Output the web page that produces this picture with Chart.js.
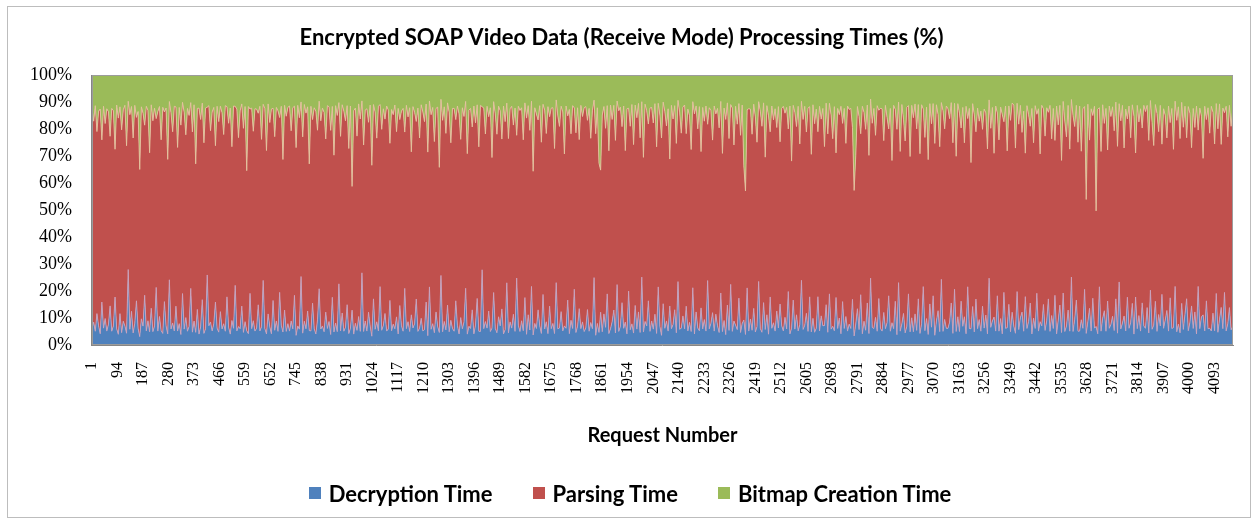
<!DOCTYPE html>
<html>
<head>
<meta charset="utf-8">
<title>Encrypted SOAP Video Data (Receive Mode) Processing Times (%)</title>
<script src="https://cdn.jsdelivr.net/npm/chart.js@4.4.1/dist/chart.umd.min.js"></script>
<style>
body{margin:0;background:#fff;}
#wrap{position:relative;width:1256px;height:523px;overflow:hidden;background:#fff;}
#frame{position:absolute;left:7px;top:6px;width:1244px;height:512px;border:1px solid #bdbdbd;box-sizing:border-box;}
#c{position:absolute;left:0;top:0;}
#legend{position:absolute;left:2px;top:480px;width:1256px;height:26px;display:flex;justify-content:center;align-items:center;font:bold 22px Lato,"Liberation Sans",sans-serif;color:#000;}
#legend span.item{display:flex;align-items:center;margin:0 20px;}
#legend i{display:inline-block;width:12px;height:12px;margin-right:8px;}
</style>
</head>
<body>
<div id="wrap">
  <div id="frame"></div>
  <canvas id="c" width="1256" height="523"></canvas>
  <div id="legend"></div>
</div>
<script>
// request axis labels (every 93rd request, as in the original)
const tickLabels=[1,94,187,280,373,466,559,652,745,838,931,1024,1117,1210,1303,1396,1489,1582,1675,1768,1861,1954,2047,2140,2233,2326,2419,2512,2605,2698,2791,2884,2977,3070,3163,3256,3349,3442,3535,3628,3721,3814,3907,4000,4093];
const sampleStep=6; // one sample every 6 requests
const lastRequest=4160;

// raw times, one value per sample (estimated)
const decryption=[
6,9,5,14,7,4,22,6,11,5,8,18,5,7,26,6,4,12,5,9,
7,5,35,6,13,5,8,20,6,4,10,7,24,5,9,6,15,5,7,28,
5,11,6,4,19,7,5,30,6,9,5,16,6,8,4,21,6,12,5,7,
25,5,9,6,14,4,7,18,5,6,33,7,10,5,8,22,6,5,13,6,
9,5,20,7,4,11,6,27,5,8,6,15,5,9,7,4,23,6,10,5,
6,17,5,8,29,6,5,12,7,4,19,6,9,5,25,7,6,14,5,8,
5,10,6,21,4,7,6,31,5,9,6,13,7,5,18,6,4,11,24,6,
7,5,15,6,9,4,20,6,8,5,27,6,12,5,7,16,5,6,22,4,
8,6,11,5,34,6,9,5,14,7,4,19,6,10,5,26,6,7,13,5,
6,23,5,8,6,12,4,17,7,5,29,6,9,5,15,6,8,21,5,7,
10,5,6,18,4,25,6,8,5,13,7,6,32,5,9,6,16,5,11,6,
5,20,7,4,12,6,9,24,5,7,6,15,4,8,19,6,5,36,6,10,
6,14,5,8,22,6,5,11,7,17,4,6,27,5,9,6,13,5,38,7,
5,9,6,19,4,12,6,25,5,8,6,15,7,5,21,6,10,4,16,6,
8,5,28,6,7,13,5,9,6,20,4,11,6,24,5,7,17,6,9,5,
6,15,5,10,6,30,4,8,6,18,5,12,7,22,5,6,9,14,5,26,
5,7,19,6,11,4,23,6,8,5,16,6,13,5,31,6,9,7,20,5,
9,6,12,5,25,7,4,17,6,10,5,21,6,8,14,5,28,6,7,11,
6,18,5,9,6,24,4,13,7,5,19,6,10,5,33,6,8,15,5,12,
7,5,22,6,9,4,16,6,27,5,11,7,6,20,5,8,13,6,25,5,
10,6,14,5,8,29,6,5,17,7,12,4,23,6,9,5,15,6,21,7,
5,11,6,26,4,8,18,6,13,5,9,30,6,7,14,5,20,6,10,5,
6,24,5,12,7,9,16,5,22,6,8,5,27,6,11,4,19,6,13,5,
8,6,21,5,10,14,6,25,4,9,6,17,5,31,7,6,12,5,20,6,
5,15,6,9,23,5,11,6,18,4,28,6,8,13,5,7,22,6,10,5,
12,6,19,5,8,26,6,10,5,16,7,21,4,9,14,6,29,5,11,6,
6,9,17,5,24,6,11,5,20,7,13,4,27,6,8,15,5,22,6,10,
5,18,6,12,5,30,7,9,14,5,21,6,10,4,25,6,8,16,5,13,
7,5,23,6,10,15,5,28,6,9,19,4,12,6,24,5,11,7,17,6,
9,20,5,13,6,26,4,10,16,6,22,5,8,14,6,31,5,11,18,6,
5,12,6,25,7,9,17,5,21,6,13,4,27,6,10,15,5,23,6,8,
11,6,19,5,29,6,8,14,5,22,6,10,17,4,26,6,12,5,20,7,
6,15,5,24,6,9,18,5,13,7,28,6,10,16,5,21,6,8,25,5,
8,5,17,6,12,23,5,9,20,6,14,4,30,6,11,16,5,19,6,7,
5,13,6,22,5,10,18,6,24,5,9,15,6,7
];
const parsing=[
80,79,82,81,78,80,83,79,81,80,82,78,81,79,80,83,81,79,82,80,
81,80,78,82,79,81,80,83,78,80,81,79,82,80,78,81,83,79,80,82,
79,81,80,78,83,80,79,82,81,78,80,82,79,81,80,78,82,80,81,79,
82,78,81,80,79,83,80,78,82,81,79,80,83,78,81,80,79,82,80,81,
80,82,79,81,83,78,80,81,79,82,80,78,81,83,79,80,82,81,78,80,
78,81,80,82,79,80,83,81,78,80,82,79,80,81,83,78,80,82,79,81,
81,79,82,80,78,81,80,79,83,82,80,78,81,80,79,82,81,83,80,78,
80,83,79,81,82,78,80,82,79,81,80,83,78,80,82,79,81,80,78,82,
79,80,82,78,81,83,79,80,81,82,78,80,83,79,80,81,82,78,80,81,
82,81,78,80,83,79,82,80,78,81,80,82,79,83,81,78,80,81,82,79,
80,78,81,83,79,80,82,81,78,80,83,79,81,80,82,78,81,83,79,80,
81,82,79,80,78,82,80,79,83,81,80,78,82,81,79,80,83,78,81,80,
79,80,83,81,80,78,81,82,79,80,82,81,78,80,83,79,80,82,81,78,
82,79,80,78,81,83,80,79,82,80,78,81,80,83,79,82,81,80,78,81,
80,81,82,79,83,80,78,81,80,82,79,83,81,78,80,81,79,82,80,83,
78,80,81,82,80,79,83,80,81,78,82,80,79,81,80,83,78,82,80,79,
81,83,79,80,82,81,78,80,83,79,81,80,82,78,80,81,83,79,80,82,
80,78,82,81,79,80,82,83,78,81,80,79,82,80,81,78,80,83,81,79,
83,80,79,82,81,78,80,81,82,79,80,83,78,81,80,82,79,80,81,78,
79,82,81,80,78,83,81,79,80,82,81,78,80,83,79,81,80,82,78,80,
81,80,78,83,80,82,79,81,80,78,83,81,79,80,82,80,81,78,83,79,
80,81,83,79,82,80,78,82,81,80,79,83,81,78,80,82,79,81,80,82,
78,82,80,81,79,83,80,78,82,81,80,79,82,80,83,81,78,80,79,81,
82,80,79,81,80,78,83,80,81,79,82,80,78,83,81,80,79,82,81,80,
80,79,82,83,78,81,80,82,79,80,81,78,83,80,79,82,81,80,78,81,
81,83,80,78,82,79,81,80,83,78,80,82,79,81,80,83,78,81,82,80,
79,80,81,82,80,78,83,81,79,82,80,81,78,80,82,79,83,80,81,78,
80,82,78,81,83,80,79,80,82,81,78,83,80,79,81,80,82,78,80,83,
82,79,81,80,78,82,80,83,81,79,80,82,78,81,83,80,79,81,82,80,
79,81,83,78,80,81,82,79,80,83,81,78,80,82,79,81,80,83,78,82,
81,80,79,82,81,83,78,80,82,79,81,80,83,78,80,82,81,79,80,81,
80,83,81,79,82,78,80,81,79,82,80,83,81,80,78,82,79,80,83,81,
78,81,80,83,79,82,81,80,78,81,83,79,82,80,81,78,80,82,79,80,
83,80,82,78,81,80,79,83,81,80,78,82,80,81,79,83,80,78,82,81,
80,82,79,81,80,83,78,81,82,80,79,81,80,82
];
const bitmap=[
12,18,11,25,13,12,33,11,20,12,14,28,12,13,40,11,16,12,22,13,
11,30,12,15,12,26,11,19,13,45,12,14,24,11,13,35,12,17,12,21,
13,12,27,11,16,12,38,12,14,23,11,13,31,12,19,11,14,26,12,15,
12,22,11,42,13,12,17,11,29,12,15,11,24,13,12,36,11,18,12,14,
25,11,13,19,12,32,11,14,12,27,13,11,21,12,47,11,15,12,23,12,
12,16,11,28,13,12,34,11,18,12,14,25,12,13,20,11,39,12,15,12,
11,23,12,13,30,11,16,12,26,11,14,12,43,11,19,12,13,24,11,17,
12,14,29,11,12,21,13,37,11,15,12,26,11,13,18,12,32,11,70,13,
12,25,11,16,12,31,13,12,20,11,41,12,14,27,11,13,22,12,18,11,
13,35,12,15,11,24,12,19,13,12,29,11,16,12,38,11,14,21,12,26,
11,13,18,12,33,11,15,12,27,13,12,44,11,17,12,23,11,14,30,12,
12,20,11,14,28,12,16,11,36,13,12,22,11,19,12,31,11,15,12,25,
11,17,12,39,11,14,24,12,13,30,11,18,12,26,13,11,21,12,34,11,
13,12,27,11,16,12,22,11,48,12,14,19,11,29,12,13,25,11,17,12,
12,32,11,15,21,12,13,37,11,18,12,26,11,14,23,12,30,11,16,12,
11,19,12,28,13,11,24,12,42,52,15,12,21,13,33,11,17,12,27,11,
13,12,23,11,36,12,14,20,11,29,12,16,11,25,12,38,11,13,22,12,
12,18,11,31,12,15,26,11,13,21,12,45,11,17,12,28,11,14,24,12,
11,27,12,16,33,11,14,12,22,11,39,12,18,11,25,12,13,30,11,15,
12,21,11,35,12,17,11,26,13,12,32,11,19,12,24,11,47,66,15,12,
13,24,11,16,29,12,13,20,11,37,12,15,27,11,18,12,23,11,34,12,
11,15,12,26,11,41,12,14,22,11,30,12,17,11,25,12,13,36,11,19,
12,28,11,18,12,33,11,23,12,15,27,11,44,12,16,11,21,12,31,11,
13,12,24,64,38,12,16,29,11,14,22,12,35,11,19,12,26,11,15,12,
12,30,11,17,25,12,42,11,14,21,12,33,11,18,27,12,13,37,11,16,
11,22,12,34,11,15,26,12,40,11,19,12,28,11,16,32,12,13,23,11,
12,17,11,29,12,36,11,14,24,12,31,11,20,12,43,11,15,27,12,18,
13,25,12,15,33,11,21,12,39,11,16,28,12,14,22,11,35,12,17,11,
11,31,12,19,11,26,13,45,11,15,23,12,30,11,18,12,37,11,14,25,
12,16,11,28,12,34,11,20,12,41,11,17,26,12,32,11,15,22,12,29,
11,36,12,14,75,11,30,12,18,11,95,12,15,33,11,21,12,39,11,16,
12,23,11,30,13,17,11,35,12,20,11,28,12,15,42,11,19,12,25,11,
13,12,27,11,18,32,12,14,24,11,38,12,16,29,11,21,12,34,11,17,
12,26,11,20,12,31,11,15,37,12,22,11,28,12,16,44,11,19,12,24,
11,15,29,12,21,11,33,12,17,11,26,12,20,13
];

const COLORS=['#4F81BD','#C0504D','#9BBB59'];
const EDGES=['rgba(205,165,190,0.85)','rgba(228,196,160,0.9)','rgba(0,0,0,0)'];
const NAMES=['Decryption Time','Parsing Time','Bitmap Creation Time'];

// 100% stacked: each sample is shown as share of its total time
const n=Math.min(decryption.length,parsing.length,bitmap.length);
const requestNumbers=decryption.slice(0,n).map((_,i)=>1+i*sampleStep);
function share(series){
  return requestNumbers.map((x,i)=>{
    const tot=decryption[i]+parsing[i]+bitmap[i];
    return {x:x,y:series[i]/tot*100};
  });
}

const areaFrame={id:'areaFrame',afterDatasetsDraw(c){
  const a=c.chartArea,g=c.ctx;
  g.save();g.strokeStyle='#9c9c9c';g.lineWidth=1;
  g.strokeRect(Math.round(a.left)+0.5,Math.round(a.top)+0.5,Math.round(a.right-a.left)-1,Math.round(a.bottom-a.top)-1);
  g.restore();
}};

new Chart(document.getElementById('c'),{
  type:'line',
  data:{datasets:[0,1,2].map(k=>({
    label:NAMES[k],
    data:share([decryption,parsing,bitmap][k]),
    backgroundColor:COLORS[k],
    borderColor:EDGES[k],
    borderWidth:k===2?0:1,
    fill:k===0?'origin':'-1'
  }))},
  options:{
    responsive:false,animation:false,
    elements:{point:{radius:0,hoverRadius:0},line:{tension:0}},
    layout:{padding:{left:10,right:23,top:0,bottom:75}},
    plugins:{
      legend:{display:false},
      tooltip:{enabled:false},
      title:{display:true,text:'Encrypted SOAP Video Data (Receive Mode) Processing Times (%)',color:'#000',
        font:{family:'Lato',size:22,weight:'bold'},padding:{top:25,bottom:24}}
    },
    scales:{
      x:{type:'linear',min:1,max:lastRequest,
        grid:{display:false,drawTicks:false},border:{display:true,color:'#868686'},
        afterBuildTicks:s=>{s.ticks=tickLabels.map(v=>({value:v}));},
        ticks:{autoSkip:false,minRotation:90,maxRotation:90,padding:17,color:'#000',
          font:{family:'Liberation Serif',size:16},callback:v=>String(v)},
        title:{display:true,text:'Request Number',color:'#000',font:{family:'Lato',size:20,weight:'bold'},padding:{top:13,bottom:0}}
      },
      y:{stacked:true,min:0,max:100,
        grid:{display:false,drawTicks:false},border:{display:true,color:'#868686'},
        ticks:{autoSkip:false,stepSize:10,padding:20,color:'#000',font:{family:'Liberation Serif',size:18},callback:v=>v+'%'}
      }
    }
  },
  plugins:[areaFrame]
});

// legend as html under the plot
const lg=document.getElementById('legend');
NAMES.forEach((nm,k)=>{
  const s=document.createElement('span');s.className='item';
  const b=document.createElement('i');b.style.background=COLORS[k];
  s.appendChild(b);s.appendChild(document.createTextNode(nm));
  lg.appendChild(s);
});
</script>
</body>
</html>
